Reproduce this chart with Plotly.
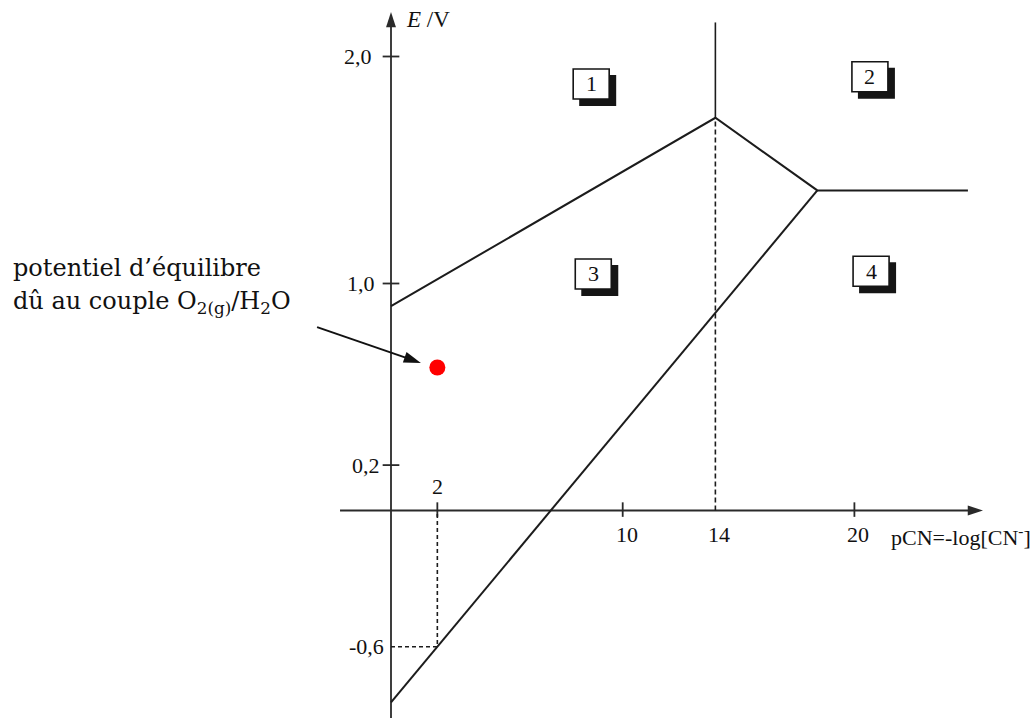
import plotly.graph_objects as go

# Boundary lines of the E / pCN diagram
upper_pcn = [0, 14, 18.4, 24.9]
upper_E = [0.90, 1.73, 1.41, 1.41]
lower_pcn = [0, 2, 18.4]
lower_E = [-0.845, -0.6, 1.41]

# Guide lines
peak_pcn = 14
peak_E = 1.73
guide_top_E = 2.15
ref_pcn = 2
ref_E = -0.6

# O2/H2O equilibrium point
o2_pcn = [2.0]
o2_E = [0.63]

# Axis ticks and labels
x_ticks = [2, 10, 20]
x_tick_text = ["2", "10", "20"]
y_ticks = [2.0, 1.0, 0.2]
y_label_vals = [2.0, 1.0, 0.2, -0.6]
y_label_text = ["2,0", "1,0", "0,2", "-0,6"]
region_labels = ["1", "2", "3", "4"]

# pixel scale of the drawing
PX_X0, PX_PER_PCN = 391.0, 23.17
PX_Y0, PX_PER_V = 510.5, 227.0
W, H = 1035, 718

x_range = [-PX_X0 / PX_PER_PCN, (W - PX_X0) / PX_PER_PCN]
y_range = [(PX_Y0 - H) / PX_PER_V, PX_Y0 / PX_PER_V]

INK = "#1c1c1c"
AXIS = "#2a2a2a"
SERIF = "Liberation Serif"
TXT = "#111"

fig = go.Figure()

# tick marks
tx, ty = [], []
for t in x_ticks:
    tx += [t, t, None]
    ty += [0.036, -0.028, None]
for t in y_ticks:
    tx += [-0.36, 0.36, None]
    ty += [t, t, None]
fig.add_trace(go.Scatter(x=tx, y=ty, mode="lines", line=dict(color=AXIS, width=1.8),
                         hoverinfo="skip"))

# axes with arrow heads
fig.add_trace(go.Scatter(x=[0, 0], y=[y_range[0] - 0.05, y_range[1] - 12 / PX_PER_V],
                         mode="lines+markers", line=dict(color=AXIS, width=1.8),
                         marker=dict(symbol="arrow", size=16, angleref="previous",
                                     color=AXIS)))
fig.add_trace(go.Scatter(x=[-2.2, 25.55], y=[0, 0],
                         mode="lines+markers", line=dict(color=AXIS, width=1.8),
                         marker=dict(symbol="arrow", size=16, angleref="previous",
                                     color=AXIS)))

# boundaries
fig.add_trace(go.Scatter(x=upper_pcn, y=upper_E, mode="lines",
                         line=dict(color=INK, width=2)))
fig.add_trace(go.Scatter(x=lower_pcn, y=lower_E, mode="lines",
                         line=dict(color=INK, width=2)))

# vertical line at pCN = 14: solid above the peak, dashed below
fig.add_trace(go.Scatter(x=[peak_pcn, peak_pcn], y=[peak_E, guide_top_E], mode="lines",
                         line=dict(color=INK, width=1.6)))
fig.add_trace(go.Scatter(x=[peak_pcn, peak_pcn], y=[0, peak_E], mode="lines",
                         line=dict(color=INK, width=1.6, dash="5px,3px")))

# dashed projection of the point (2 ; -0,6)
fig.add_trace(go.Scatter(x=[0, ref_pcn, ref_pcn], y=[ref_E, ref_E, 0], mode="lines",
                         line=dict(color=INK, width=1.6, dash="4px,3px")))

# equilibrium point
fig.add_trace(go.Scatter(x=o2_pcn, y=o2_E, mode="markers",
                         marker=dict(color="#ff0000", size=16, line=dict(width=0))))

# pointer from the note to the point
fig.add_trace(go.Scatter(x=[-3.19, 1.29], y=[0.808, 0.650], mode="lines+markers",
                         line=dict(color=TXT, width=2),
                         marker=dict(symbol="arrow", size=18, angleref="previous",
                                     color=TXT)))

ann = []

# axis titles
ann.append(dict(x=0, y=y_range[1], xref="x", yref="y", xanchor="left", yanchor="top",
                xshift=13, yshift=-5, showarrow=False,
                text="<i>E</i> /V", font=dict(family=SERIF, size=23, color=TXT)))
ann.append(dict(x=(889 - PX_X0) / PX_PER_PCN, y=0, xref="x", yref="y",
                xanchor="left", yanchor="middle", yshift=-25, showarrow=False,
                text="pCN=-log[CN<sup>-</sup>]", font=dict(family=SERIF, size=22, color=TXT)))

# tick labels
for v, t in zip(x_ticks, x_tick_text):
    above = v == ref_pcn
    ann.append(dict(x=v, y=0, xref="x", yref="y", showarrow=False, text=t,
                    xanchor="center", yanchor="middle",
                    xshift=0 if above else 4, yshift=24 if above else -24,
                    font=dict(family=SERIF, size=22, color=TXT)))
ann.append(dict(x=peak_pcn, y=0, xref="x", yref="y", showarrow=False, text="14",
                xanchor="center", yanchor="middle", xshift=4, yshift=-24,
                font=dict(family=SERIF, size=22, color=TXT)))
y_label_shift = [-17, -14, -9, -5]
for v, t, s in zip(y_label_vals, y_label_text, y_label_shift):
    ann.append(dict(x=0, y=v, xref="x", yref="y", showarrow=False, text=t,
                    xanchor="right", yanchor="middle", xshift=s,
                    font=dict(family=SERIF, size=22, color=TXT)))

# numbered region boxes with drop shadow
shapes = []
box_pos = [(8.64, 1.879), (20.67, 1.911), (8.73, 1.042), (20.72, 1.054)]
for (bx, by), lab in zip(box_pos, region_labels):
    common = dict(type="rect", xref="x", yref="y", xsizemode="pixel", ysizemode="pixel",
                  xanchor=bx, yanchor=by)
    shapes.append(dict(common, x0=-12, x1=25, y0=-22, y1=9,
                       fillcolor="#151515", line=dict(width=0)))
    shapes.append(dict(common, x0=-18, x1=18, y0=-15, y1=15,
                       fillcolor="white", line=dict(color="#151515", width=1.6)))
    ann.append(dict(x=bx, y=by, xref="x", yref="y", showarrow=False, text=lab,
                    xanchor="center", yanchor="middle",
                    font=dict(family=SERIF, size=22, color=TXT)))

# explanatory note
note_font = dict(family="DejaVu Serif", size=24, color=TXT)
ann.append(dict(x=11 / W, y=1 - 268 / H, xref="paper", yref="paper", showarrow=False,
                xanchor="left", yanchor="middle", text="potentiel d’équilibre", font=note_font))
ann.append(dict(x=11 / W, y=1 - 302 / H, xref="paper", yref="paper", showarrow=False,
                xanchor="left", yanchor="middle",
                text="dû au couple O<sub>2(g)</sub>/H<sub>2</sub>O", font=note_font))

fig.update_layout(
    width=W, height=H, autosize=False,
    margin=dict(l=0, r=0, t=0, b=0, pad=0),
    paper_bgcolor="white", plot_bgcolor="white",
    showlegend=False,
    xaxis=dict(range=x_range, visible=False, fixedrange=True),
    yaxis=dict(range=y_range, visible=False, fixedrange=True),
    annotations=ann, shapes=shapes,
)

fig.write_html("out.html")
